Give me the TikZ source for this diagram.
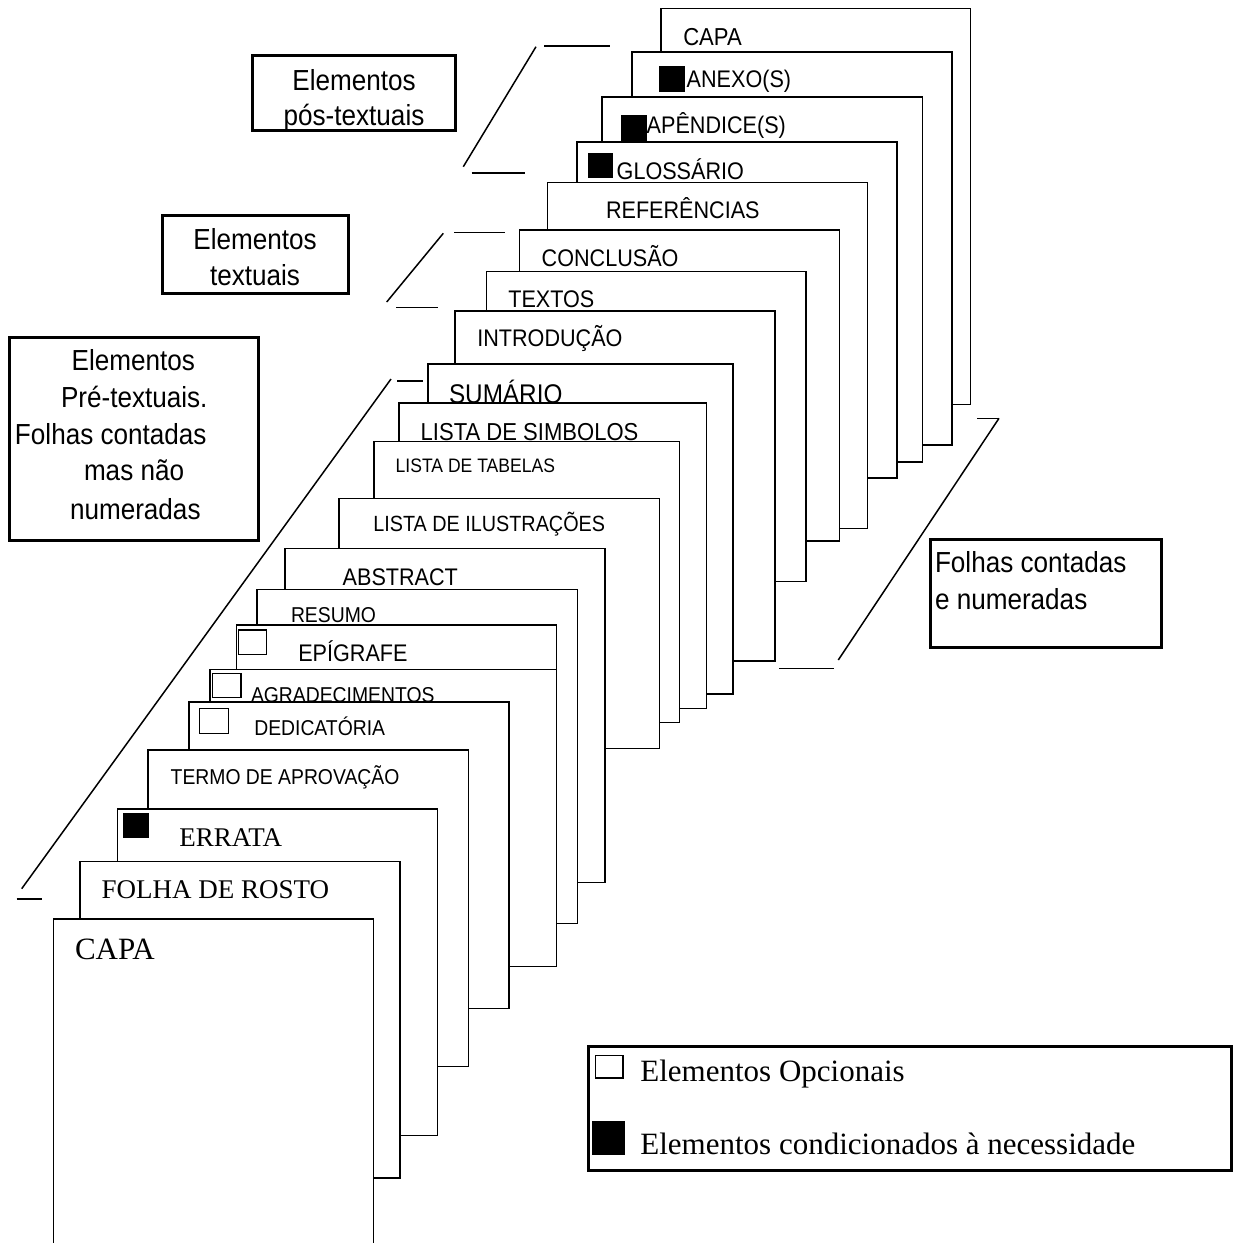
\documentclass[tikz,border=0pt]{standalone}
\usepackage{fontspec}
\newfontfamily\sanslab[FakeStretch=0.9]{Liberation Sans}
\newfontfamily\serlab{Liberation Serif}
\begin{document}
\begin{tikzpicture}[x=1pt,y=-1pt,
  pg/.style={draw=black, fill=white, line width=1.3pt},
  pgb/.style={pg, line width=1.9pt},
  sq/.style={draw=black, fill=white, line width=1.4pt},
  bsq/.style={fill=black, draw=none},
  lab/.style={anchor=base west, inner sep=0pt, outer sep=0pt, font=\sanslab\fontsize{#1}{#1}\selectfont},
  lab/.default=24,
  slab/.style={anchor=base west, inner sep=0pt, outer sep=0pt, font=\serlab\fontsize{#1}{#1}\selectfont},
  slab/.default=27,
  btxt/.style={inner sep=0pt, outer sep=0pt, font=\sanslab\fontsize{29}{29}\selectfont},
  bbox/.style={draw=black, line width=3pt},
  brk/.style={draw=black, line width=1.5pt},
]
\useasboundingbox[fill=white] (0,0) rectangle (1233,1243);

% ---------- stack of pages, back to front ----------
% 1 CAPA (back)
\path[pg] (661,8.3) rectangle (970.7,404.3);
\node[lab=24.5] (tcapab) at (683.3,45) {CAPA};
% 2 ANEXO(S)
\path[pgb] (631.7,51.7) rectangle (952.3,445);
\path[bsq] (659.3,66) rectangle (685,91.7);
\node[lab] (tanexo) at (686.7,87.3) {ANEXO(S)};
% 3 APENDICE(S)
\path[pgb] (602.3,97.3) rectangle (922.5,462.3);
\path[bsq] (621,115) rectangle (646.7,140.7);
\node[lab] (tapend) at (646.7,133.3) {APÊNDICE(S)};
% 4 GLOSSARIO
\path[pgb] (576.7,142.3) rectangle (896.7,478.3);
\path[bsq] (587.7,152.7) rectangle (613.3,178.3);
\node[lab] (tgloss) at (616.7,179.3) {GLOSSÁRIO};
% 5 REFERENCIAS
\path[pg] (547.7,182.7) rectangle (867.5,528.3);
\node[lab] (tref) at (606,218.3) {REFERÊNCIAS};
% 6 CONCLUSAO
\path[pg] (519.3,230) rectangle (839.5,541);
\node[lab] (tconc) at (541.7,266.7) {CONCLUSÃO};
% 7 TEXTOS
\path[pg] (486.7,271.7) rectangle (806,581.7);
\node[lab] (ttext) at (508.3,307.3) {TEXTOS};
% 8 INTRODUCAO
\path[pgb] (455,310.7) rectangle (775,661);
\node[lab] (tintro) at (477.3,346.7) {INTRODUÇÃO};
% 9 SUMARIO
\path[pgb] (427.7,364.3) rectangle (732.7,694);
\node[lab=27] (tsum) at (449,403) {SUMÁRIO};
% 10 LISTA DE SIMBOLOS
\path[pg] (399,403) rectangle (706.7,708.3);
\node[lab=24.5] (tsimb) at (420.7,440) {LISTA DE SIMBOLOS};
% 11 LISTA DE TABELAS
\path[pg] (374,441.7) rectangle (679.3,722.7);
\node[lab=19.5] (ttab) at (395.7,472.7) {LISTA DE TABELAS};
% 12 LISTA DE ILUSTRACOES
\path[pg] (339,498.3) rectangle (659.3,748.3);
\node[lab=22] (tilus) at (373.3,531.7) {LISTA DE ILUSTRAÇÕES};
% 13 ABSTRACT
\path[pg] (285,548.5) rectangle (605,882.7);
\node[lab] (tabs) at (342.7,585) {ABSTRACT};
% 14 RESUMO
\path[pg] (257,589.3) rectangle (577.5,923.3);
\node[lab=21.5] (tres) at (291,622.7) {RESUMO};
% 15 EPIGRAFE
\path[pg] (236.7,625) rectangle (556.7,940);
\path[sq] (238.3,630) rectangle (266.7,654.3);
\node[lab] (tepi) at (298.3,661.7) {EPÍGRAFE};
% 16 AGRADECIMENTOS
\path[pg] (210,669.2) rectangle (556.7,966.7);
\path[sq] (212.3,673.3) rectangle (241,697.7);
\node[lab=21.5] (tagr) at (251,702) {AGRADECIMENTOS};
% 17 DEDICATORIA
\path[pgb] (189.3,701.7) rectangle (509.3,1008.5);
\path[sq] (199.3,708.3) rectangle (228.3,733.3);
\node[lab=21.5] (tded) at (254.3,735.7) {DEDICATÓRIA};
% 18 TERMO DE APROVACAO
\path[pg] (148,750) rectangle (468.3,1066.3);
\node[lab=21.5] (tterm) at (170.7,784) {TERMO DE APROVAÇÃO};
% 19 ERRATA
\path[pg] (117.3,809) rectangle (437.3,1135.8);
\path[bsq] (123.3,813) rectangle (149.3,838);
\node[slab] (terr) at (179.3,846.3) {ERRATA};
% 20 FOLHA DE ROSTO
\path[pg] (80,861.2) rectangle (400,1178);
\node[slab] (tfol) at (101.7,898) {FOLHA DE ROSTO};
% 21 CAPA (front)
\path[pg] (53.3,1250) -- (53.3,919) -- (373.3,919) -- (373.3,1250);
\node[slab=31] (tcapaf) at (75,959.7) {CAPA};

% ---------- label boxes ----------
% pos-textuais
\node[btxt, anchor=base] (pos1) at (354,90) {Elementos};
\node[btxt, anchor=base] (pos2) at (354,125) {pós-textuais};
\draw[bbox] (252.7,55.7) rectangle (455,130.7);
% textuais
\node[btxt, anchor=base] (txt1) at (255,249.3) {Elementos};
\node[btxt, anchor=base] (txt2) at (255,285) {textuais};
\draw[bbox] (162.3,215) rectangle (348.3,293.3);
% pre-textuais
\node[btxt, anchor=base] (pre1) at (133.3,370.7) {Elementos};
\node[btxt, anchor=base west] (pre2) at (61,407.3) {Pré-textuais.};
\node[btxt, anchor=base west] (pre3) at (15,444) {Folhas contadas};
\node[btxt, anchor=base west] (pre4) at (84,480.7) {mas não};
\node[btxt, anchor=base west] (pre5) at (70,519.3) {numeradas};
\draw[bbox] (9.3,337.3) rectangle (258.3,540);
% folhas contadas e numeradas
\node[btxt, anchor=base west] (fol1) at (935,572.7) {Folhas contadas};
\node[btxt, anchor=base west] (fol2) at (935,609.3) {e numeradas};
\draw[bbox] (930,539.3) rectangle (1161,647.7);

% ---------- brackets ----------
\coordinate (a1) at (536,46.7);   \coordinate (a2) at (463.3,166.7);
\coordinate (a3) at (544,46);     \coordinate (a4) at (610,46);
\coordinate (a5) at (471.7,173);  \coordinate (a6) at (525,173);
\draw[brk] (a1) -- (a2); \draw[brk] (a3) -- (a4); \draw[brk] (a5) -- (a6);
\coordinate (b1) at (443.3,233.3); \coordinate (b2) at (386.7,302);
\coordinate (b3) at (454,232.5);   \coordinate (b4) at (505,232.5);
\coordinate (b5) at (396,307.3);   \coordinate (b6) at (438.3,307.3);
\draw[brk] (b1) -- (b2); \draw[brk] (b3) -- (b4); \draw[brk] (b5) -- (b6);
\coordinate (c1) at (391,379);     \coordinate (c2) at (21.7,888.7);
\coordinate (c3) at (397,381);     \coordinate (c4) at (423,381);
\coordinate (c5) at (16.7,899);    \coordinate (c6) at (42.3,899);
\draw[brk] (c1) -- (c2); \draw[brk] (c3) -- (c4); \draw[brk] (c5) -- (c6);
\coordinate (d1) at (999,418.3);   \coordinate (d2) at (838.3,660);
\coordinate (d3) at (977.3,418.3); \coordinate (d4) at (998.3,418.3);
\coordinate (d5) at (779.3,668.3); \coordinate (d6) at (834,668.3);
\draw[brk] (d1) -- (d2); \draw[brk] (d3) -- (d4); \draw[brk] (d5) -- (d6);

% ---------- legend ----------
\draw[bbox] (588.3,1046.3) rectangle (1231.5,1170.7);
\path[sq] (595.4,1055.3) rectangle (622.9,1077.8);
\path[bsq] (591.7,1120.9) rectangle (625,1155);
\node[slab=31] (leg1) at (640.4,1081.3) {Elementos Opcionais};
\node[slab=31] (leg2) at (640.4,1154.7) {Elementos condicionados à necessidade};
\end{tikzpicture}
\end{document}
